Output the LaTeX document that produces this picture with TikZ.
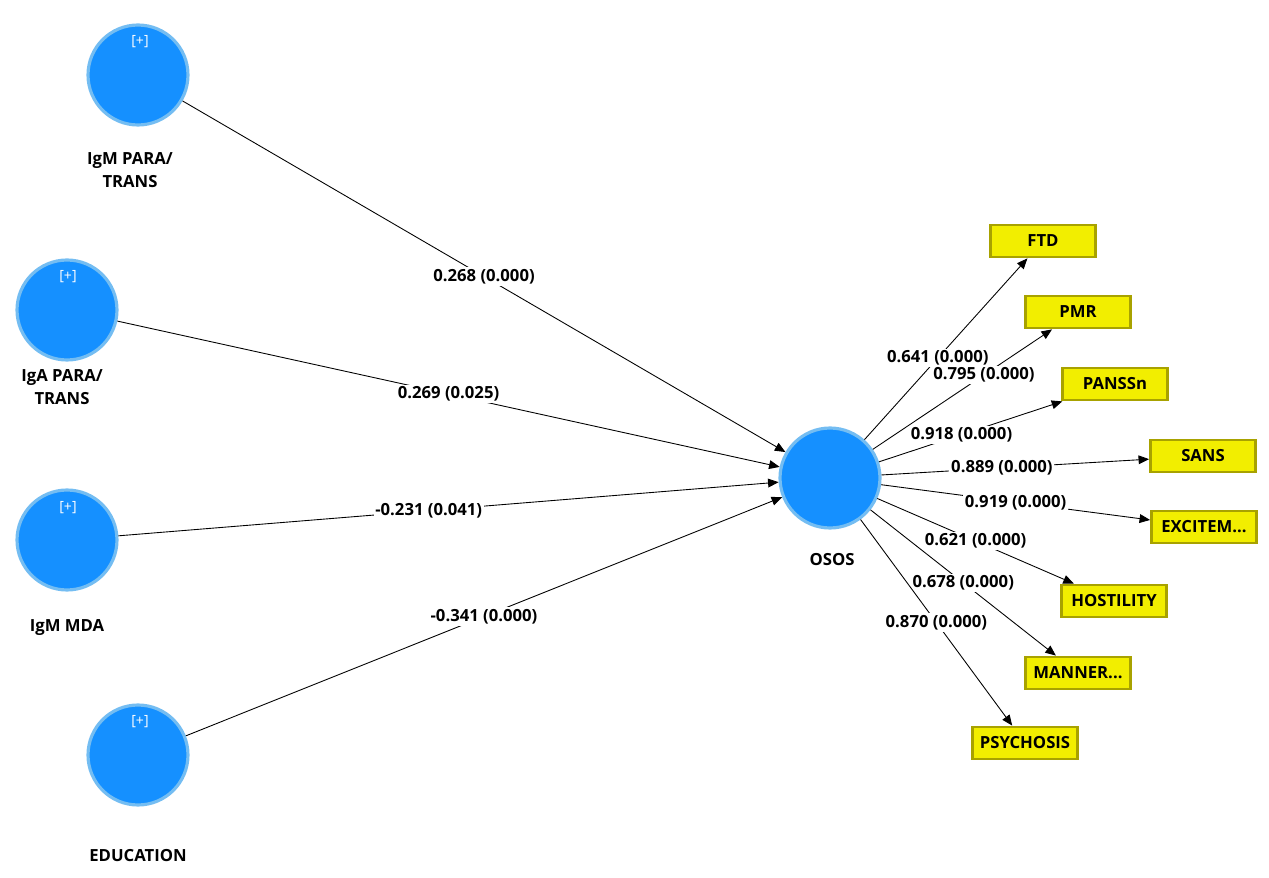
\documentclass[tikz,border=0pt]{standalone}
\usepackage{fontspec}
\setmainfont{Open Sans}
\usetikzlibrary{arrows.meta}
\definecolor{cfill}{HTML}{1590FF}
\definecolor{cline}{HTML}{74BDF2}
\definecolor{yfill}{HTML}{F2EE00}
\definecolor{yline}{HTML}{A8A200}
\tikzset{
 lv/.style={circle,fill=cfill,draw=cline,line width=1.8pt,minimum size=2.0cm,inner sep=0pt},
 ind/.style={rectangle,fill=yfill,draw=yline,line width=1.6pt,minimum width=2.1cm,minimum height=0.64cm,font=\fontsize{9.5}{11}\selectfont\bfseries},
 lbl/.style={font=\fontsize{9.5}{13}\selectfont\bfseries,align=center},
 plus/.style={font=\fontsize{8}{9}\selectfont,text=white},
 el/.style={fill=white,inner sep=1pt,font=\fontsize{9.5}{11}\selectfont\bfseries},
 arr/.style={-{Triangle[length=6pt,width=5pt]},line width=0.5pt}
}
\begin{document}
\begin{tikzpicture}[x=0.02cm,y=-0.02cm]
\useasboundingbox (0,0) rectangle (1269,878);
\node[lv] (a) at (138,75) {};
\node[lv] (b) at (67,310) {};
\node[lv] (c) at (67,540) {};
\node[lv] (d) at (138,755) {};
\node[lv] (o) at (830,478) {};
\foreach \n/\x/\y in {pa/140/42,pb/68/277,pc/68/508,pd/140/722}{\node[plus] (\n) at (\x,\y) {[+]};}
\node[lbl] (la) at (130,170) {IgM PARA/\\TRANS};
\node[lbl] (lb) at (62,387) {IgA PARA/\\TRANS};
\node[lbl] (lc) at (67,628) {IgM MDA};
\node[lbl] (ld) at (138,856) {EDUCATION};
\node[lbl] (lo) at (832,560) {OSOS};
\node[ind] (i1) at (1043,241) {FTD};
\node[ind] (i2) at (1078,312) {PMR};
\node[ind] (i3) at (1115,384) {PANSSn};
\node[ind] (i4) at (1203,456) {SANS};
\node[ind] (i5) at (1204,527) {EXCITEM...};
\node[ind] (i6) at (1114,601) {HOSTILITY};
\node[ind] (i7) at (1078,673) {MANNER...};
\node[ind] (i8) at (1025,743) {PSYCHOSIS};
\draw[arr] (a) -- (o) node[el,pos=0.5] {0.268 (0.000)};
\draw[arr] (b) -- (o) node[el,pos=0.5] {0.269 (0.025)};
\draw[arr] (c) -- (o) node[el,pos=0.47] {-0.231 (0.041)};
\draw[arr] (d) -- (o) node[el,pos=0.5] {-0.341 (0.000)};
\draw[arr] (o) -- (i1) node[el,pos=0.45] {0.641 (0.000)};
\draw[arr] (o) -- (i2) node[el,pos=0.62] {0.795 (0.000)};
\draw[arr] (o) -- (i3) node[el,pos=0.45] {0.918 (0.000)};
\draw[arr] (o) -- (i4) node[el,pos=0.45] {0.889 (0.000)};
\draw[arr] (o) -- (i5) node[el,pos=0.5] {0.919 (0.000)};
\draw[arr] (o) -- (i6) node[el,pos=0.5] {0.621 (0.000)};
\draw[arr] (o) -- (i7) node[el,pos=0.5] {0.678 (0.000)};
\draw[arr] (o) -- (i8) node[el,pos=0.5] {0.870 (0.000)};
\end{tikzpicture}
\end{document}
